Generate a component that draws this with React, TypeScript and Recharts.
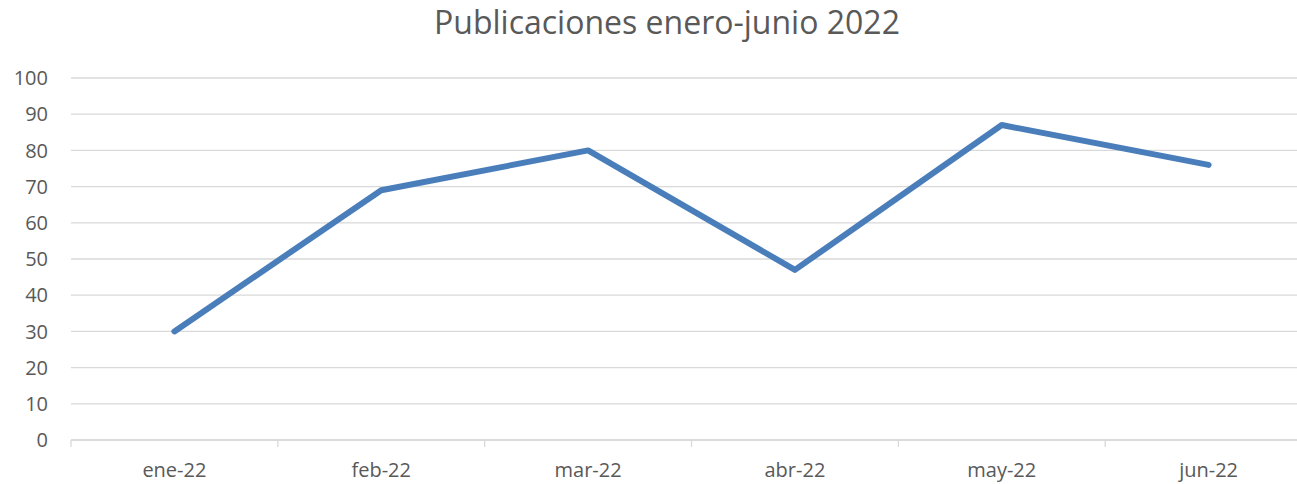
import { CartesianGrid, Line, LineChart, XAxis, YAxis } from "recharts";

const months = ["ene-22", "feb-22", "mar-22", "abr-22", "may-22", "jun-22"];
const publicaciones = [30, 69, 80, 47, 87, 76];
const yTicks = [0, 10, 20, 30, 40, 50, 60, 70, 80, 90, 100];

const data = months.map((m, i) => ({ month: m, value: publicaciones[i] }));

const FONT = "'Open Sans', sans-serif";
const TEXT = "#595959";
const GRID = "#d9d9d9";
const HALF_STEP = 103.4;

function MonthTick(props: any) {
  const { x, y, payload } = props;
  return (
    <g>
      <line x1={x - HALF_STEP} x2={x - HALF_STEP} y1={y} y2={y + 7} stroke={GRID} strokeWidth={1.3} />
      {payload.index === months.length - 1 && (
        <line x1={x + HALF_STEP} x2={x + HALF_STEP} y1={y} y2={y + 7} stroke={GRID} strokeWidth={1.3} />
      )}
      <text x={x} y={y + 37} textAnchor="middle" fill={TEXT} fontSize={20} fontFamily={FONT}>
        {payload.value}
      </text>
    </g>
  );
}

export default function App() {
  return (
    <div style={{ position: "absolute", left: 0, top: 0, width: 1297, height: 484, overflow: "hidden", background: "#fff" }}>
      <div
        style={{
          position: "absolute",
          left: 0,
          width: 1334,
          top: 0,
          textAlign: "center",
          fontFamily: FONT,
          fontSize: 32,
          color: TEXT,
          lineHeight: "44px",
        }}
      >
        Publicaciones enero-junio 2022
      </div>
      <LineChart width={1312} height={484} data={data} margin={{ top: 78, right: 0, bottom: 0, left: 0 }}>
        <CartesianGrid stroke={GRID} strokeWidth={1.3} vertical={false} />
        <XAxis
          dataKey="month"
          padding={{ left: HALF_STEP, right: HALF_STEP }}
          height={44}
          axisLine={{ stroke: GRID, strokeWidth: 1.3 }}
          tickLine={false}
          tickSize={0}
          tickMargin={0}
          tick={<MonthTick />}
          interval={0}
        />
        <YAxis
          width={71}
          domain={[0, 100]}
          ticks={yTicks}
          axisLine={false}
          tickLine={false}
          tickSize={0}
          tickMargin={23}
          tick={{ fill: TEXT, fontSize: 20, fontFamily: FONT }}
        />
        <Line
          type="linear"
          dataKey="value"
          stroke="#4a7ebb"
          strokeWidth={6}
          strokeLinecap="round"
          strokeLinejoin="round"
          dot={false}
          isAnimationActive={false}
        />
      </LineChart>
    </div>
  );
}
